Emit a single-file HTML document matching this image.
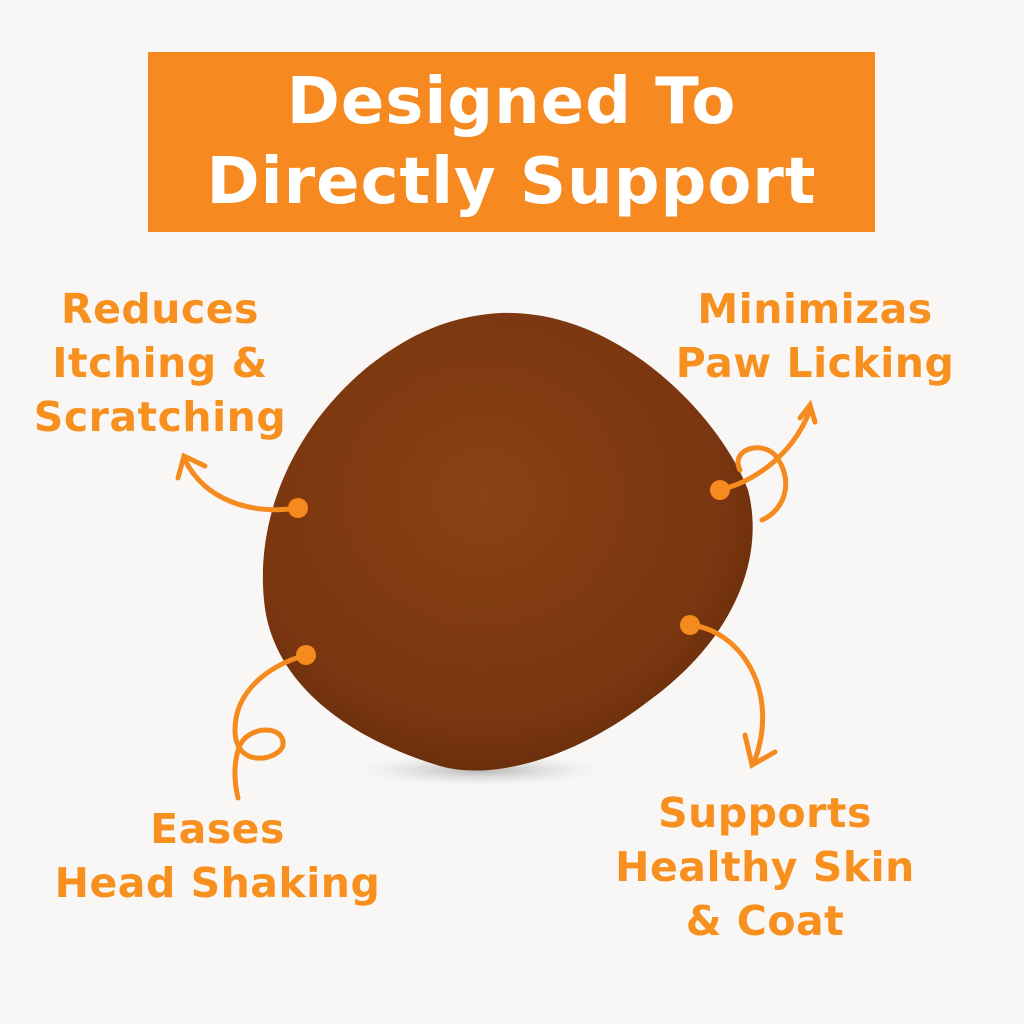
<!DOCTYPE html>
<html><head><style>
html,body{margin:0;padding:0;background:#f8f7f5;}
body{width:1024px;height:1024px;position:relative;overflow:hidden;font-family:"DejaVu Sans","Liberation Sans",sans-serif;}
.banner{position:absolute;left:148px;top:52px;width:727px;height:180px;background:#f6891f;color:#fff;font-weight:bold;font-size:64px;text-align:center;line-height:80px;padding-top:10px;box-sizing:border-box;letter-spacing:1px}
.lab{position:absolute;color:#f7901e;font-weight:bold;font-size:41px;line-height:54px;text-align:center;letter-spacing:0.5px}
</style></head><body>
<div class="banner">Designed To<br>Directly Support</div>
<svg width="1024" height="1024" style="position:absolute;left:0;top:0">
<defs>
<radialGradient id="g" cx="0.45" cy="0.4" r="0.7">
<stop offset="0" stop-color="#8a4114"/>
<stop offset="0.7" stop-color="#7a3610"/>
<stop offset="1" stop-color="#5e2808"/>
</radialGradient>
<radialGradient id="sh" cx="0.5" cy="0.5" r="0.5">
<stop offset="0" stop-color="#888" stop-opacity="0.6"/>
<stop offset="1" stop-color="#ccc" stop-opacity="0"/>
</radialGradient>
</defs>
<ellipse cx="480" cy="770" rx="125" ry="16" fill="url(#sh)"/>
<path d="M500 313 C620 308,722 420,748 490 C766 560,732 640,650 700 C570 762,490 780,440 766 C360 742,272 690,264 600 C256 520,290 430,370 365 C410 334,450 316,500 313 Z" fill="url(#g)"/>
<g stroke="#f58a1e" stroke-width="5" fill="none" stroke-linecap="round">
<path d="M298 508 C250 515,205 500,185 460"/>
<path d="M178 478 L184 456 L205 466"/>
<path d="M720 490 C760 480,795 450,810 410"/>
<path d="M800 418 L810 405 L815 422"/>
<path d="M740 470 C730 450,760 440,775 455 C795 480,785 510,762 520"/>
<path d="M690 625 C740 630,780 690,755 760"/>
<path d="M745 735 L752 765 L775 752"/>
<path d="M306 655 C270 665,235 690,235 730 C235 770,280 760,283 745 C285 725,250 725,240 745 C232 765,235 785,238 798"/>
</g>
<g fill="#f58a1e"><circle cx="298" cy="508" r="10"/><circle cx="720" cy="490" r="10"/><circle cx="690" cy="625" r="10"/><circle cx="306" cy="655" r="10"/></g>
</svg>
<div class="lab" style="left:5px;top:282px;width:310px">Reduces<br>Itching &amp;<br>Scratching</div>
<div class="lab" style="left:660px;top:282px;width:310px">Minimizas<br>Paw Licking</div>
<div class="lab" style="left:40px;top:802px;width:355px">Eases<br>Head Shaking</div>
<div class="lab" style="left:600px;top:786px;width:330px">Supports<br>Healthy Skin<br>&amp; Coat</div>
</body></html>
